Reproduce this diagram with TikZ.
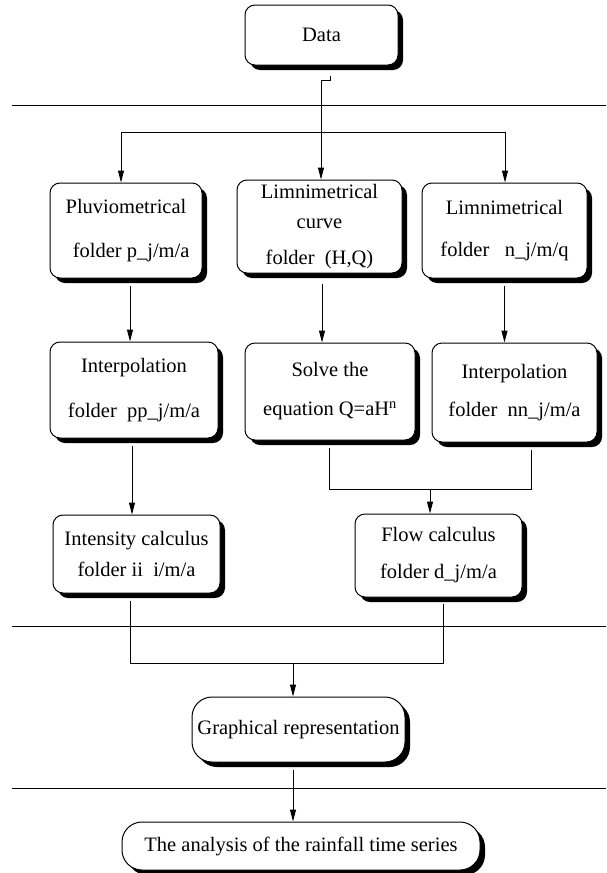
\documentclass[tikz,border=0pt]{standalone}
\usepackage{fontspec}
\setmainfont{Liberation Serif}
\usetikzlibrary{arrows.meta,shadows,calc}

\begin{document}
\begin{tikzpicture}[x=1pt,y=-1pt,line width=1pt,>={Triangle[width=6pt,length=12pt]},
  font=\fontsize{20.5}{24}\selectfont,
  block/.style={draw,fill=white,rounded corners=10pt,align=center,inner sep=0pt,
    drop shadow={shadow xshift=5pt,shadow yshift=-5pt,fill=black,opacity=1}},
  oval/.style={block,rounded corners=20pt}]
  \useasboundingbox (0,0) rectangle (606,873);

  \node[block,minimum width=153pt,minimum height=60pt]	(Data)	at (321.5,35)	{Data};
  \node[block,minimum width=152pt,minimum height=95pt]	(Pluv)	at (126,230.5)	{Pluviometrical\\[20pt]\ \ folder p\_j/m/a};
  \node[block,minimum width=165pt,minimum height=93pt]	(LimC)	at (319.5,226.5)	{Limnimetrical\\[6pt]curve\\[12pt]folder\ \ (H,Q)};
  \node[block,minimum width=165pt,minimum height=95pt]	(LimR)	at (504.5,230.5)	{Limnimetrical\\[18pt]folder\ \ \ n\_j/m/q};
  \node[block,minimum width=168pt,minimum height=96pt]	(InterpL)	at (134,390)	{Interpolation\\[21pt]folder\ \ pp\_j/m/a};
  \node[block,minimum width=170pt,minimum height=97pt]	(Solve)	at (330,391.5)	{Solve the\\[15pt]equation Q=aH\textsuperscript{n}};
  \node[block,minimum width=165pt,minimum height=99pt]	(InterpR)	at (514.5,392.5)	{Interpolation\\[14pt]folder\ \ nn\_j/m/a};
  \node[block,minimum width=167pt,minimum height=78pt]	(Intens)	at (136.5,554)	{Intensity calculus\\[7pt]folder ii\ \ i/m/a};
  \node[block,minimum width=167pt,minimum height=83pt]	(Flow)	at (438.5,555.5)	{Flow calculus\\[13pt]folder\ d\_j/m/a};
  \node[oval,minimum width=213pt,minimum height=65pt]	(Graph)	at (298.5,729.5)	{Graphical representation};
  \node[oval,minimum width=358pt,minimum height=48pt]	(Final)	at (301,846)	{The analysis of the rainfall time series};

  \draw (12,105) -- (606,105);
  \draw (12,626) -- (606,626);
  \draw (12,788) -- (606,788);

  \coordinate (split) at (321,132);
  \coordinate (bl) at (121,132);
  \coordinate (br) at (505,132);
  \coordinate (jq) at (430,489);
  \coordinate (jg) at (293,663);

  \draw ($(Data.south)+(8.5,10)$) -- ++(0,5) -| (split);
  \draw (bl) -- (br);
  \draw[->] (bl) -- (bl |- Pluv.north);
  \draw[->] (split) -- (split |- LimC.north);
  \draw[->] (br) -- (br |- LimR.north);

  \draw[->] (Pluv.south) ++(4,7) coordinate (a1) -- (a1 |- InterpL.north);
  \draw[->] (LimC.south) ++(2.5,10) coordinate (a2) -- (a2 |- Solve.north);
  \draw[->] (LimR.south) ++(0,7) coordinate (a3) -- (a3 |- InterpR.north);
  \draw[->] (InterpL.south) ++(-2,7) coordinate (a4) -- (a4 |- Intens.north);

  \draw ($(Solve.south)+(-1,7)$) |- (jq);
  \draw ($(InterpR.south)+(16.5,7)$) |- (jq);
  \draw[->] (jq) -- (jq |- Flow.north);

  \draw ($(Intens.south)+(-6.5,7)$) |- (jg);
  \draw ($(Flow.south)+(4.5,6)$) |- (jg);
  \draw[->] (jg) -- (jg |- Graph.north);
  \draw[->] (Graph.south) ++(-5.5,7) coordinate (a5) -- (a5 |- Final.north);
\end{tikzpicture}
\end{document}
